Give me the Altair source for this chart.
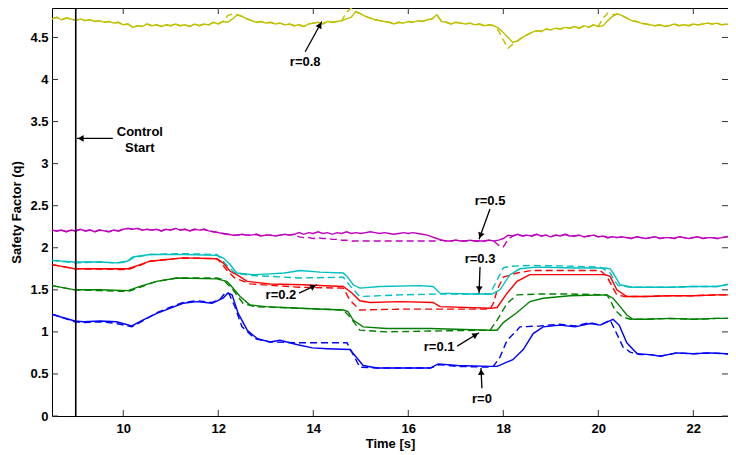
import math
import altair as alt
import pandas as pd

# ---------------- layout constants ----------------
W, H = 676, 408
X_DOMAIN = [8.5, 22.73]
Y_DOMAIN = [0.0, 4.85]
X_TICKS = [10, 12, 14, 16, 18, 20, 22]
Y_TICKS = [0, 0.5, 1, 1.5, 2, 2.5, 3, 3.5, 4, 4.5]
CONTROL_START = 9.0
FONT = "Liberation Sans"

SERIES_NAMES = ["r=0", "r=0.1", "r=0.2", "r=0.3", "r=0.5", "r=0.8"]
SERIES_COLORS = ["#0000ff", "#008000", "#ff0000", "#00bfbf", "#bf00bf", "#bfbf00"]

# ---------------- r = 0 (blue) ----------------
T_R0_SOLID = [8.50, 8.67, 8.98, 9.16, 9.51, 9.86, 10.18, 10.41, 10.71, 10.98, 11.26, 11.55, 11.87,
              12.10, 12.20, 12.29, 12.42, 12.61, 12.82, 13.09, 13.30, 13.65, 13.98, 14.30, 14.77,
              14.92, 15.05, 15.34, 15.83, 16.46, 16.63, 17.03, 17.72, 17.87, 18.20, 18.42, 18.63,
              18.84, 19.19, 19.51, 19.83, 20.04, 20.31, 20.44, 20.60, 20.82, 21.09, 21.30, 21.65,
              22.00, 22.35, 22.70, 22.90]
Q_R0_SOLID = [1.21, 1.18, 1.13, 1.12, 1.13, 1.12, 1.07, 1.14, 1.22, 1.28, 1.34, 1.36, 1.34,
              1.40, 1.46, 1.44, 1.22, 1.02, 0.92, 0.88, 0.90, 0.85, 0.81, 0.80, 0.79,
              0.69, 0.60, 0.57, 0.57, 0.57, 0.62, 0.60, 0.59, 0.59, 0.67, 0.79, 0.98,
              1.06, 1.08, 1.06, 1.10, 1.08, 1.15, 1.08, 0.87, 0.74, 0.73, 0.71, 0.75,
              0.74, 0.75, 0.74, 0.72]
T_R0_DASH = [8.50, 8.67, 8.98, 9.16, 9.51, 9.86, 10.18, 10.41, 10.71, 10.98, 11.26, 11.55, 11.87,
             12.04, 12.14, 12.22, 12.35, 12.50, 12.77, 13.09, 13.72, 14.71, 14.84, 14.98, 15.36,
             15.83, 16.46, 16.67, 17.03, 17.72, 17.79, 17.93, 18.08, 18.29, 18.35, 18.77, 19.19,
             19.51, 19.83, 20.04, 20.25, 20.42, 20.52, 20.67, 20.88, 21.09, 21.30, 21.65, 22.00,
             22.35, 22.70, 22.90]
Q_R0_DASH = [1.21, 1.18, 1.12, 1.11, 1.12, 1.10, 1.06, 1.13, 1.23, 1.29, 1.35, 1.37, 1.35,
             1.39, 1.46, 1.46, 1.30, 1.06, 0.92, 0.88, 0.87, 0.87, 0.73, 0.58, 0.57,
             0.57, 0.57, 0.61, 0.59, 0.58, 0.59, 0.70, 0.90, 1.02, 1.06, 1.07, 1.09,
             1.07, 1.11, 1.08, 1.14, 0.94, 0.82, 0.76, 0.73, 0.73, 0.71, 0.75, 0.74,
             0.75, 0.74, 0.72]

# ---------------- r = 0.1 (green) ----------------
T_R01_SOLID = [8.50, 8.98, 9.51, 10.10, 10.35, 10.70, 11.13, 11.97, 12.18, 12.25, 12.46, 12.67,
               13.00, 13.72, 14.63, 14.73, 14.84, 15.05, 15.55, 16.46, 17.72, 17.87, 18.00, 18.29,
               18.56, 18.84, 19.40, 20.18, 20.31, 20.46, 20.60, 20.73, 21.00, 21.50, 22.00, 22.50,
               22.90]
Q_R01_SOLID = [1.55, 1.50, 1.50, 1.49, 1.54, 1.60, 1.64, 1.63, 1.60, 1.56, 1.42, 1.32,
               1.30, 1.28, 1.26, 1.24, 1.14, 1.06, 1.04, 1.04, 1.02, 1.02, 1.11, 1.23,
               1.36, 1.40, 1.43, 1.44, 1.40, 1.30, 1.20, 1.15, 1.15, 1.16, 1.15, 1.16,
               1.16]
T_R01_DASH = [8.50, 8.98, 9.51, 10.10, 10.35, 10.70, 11.13, 11.97, 12.10, 12.31, 12.52, 12.77,
              13.72, 14.63, 14.77, 14.98, 15.55, 16.46, 17.72, 17.87, 18.08, 18.29, 18.77, 19.40,
              20.18, 20.25, 20.35, 20.50, 20.67, 21.00, 21.50, 22.00, 22.50, 22.90]
Q_R01_DASH = [1.55, 1.50, 1.49, 1.48, 1.53, 1.60, 1.64, 1.64, 1.62, 1.50, 1.34, 1.30,
              1.28, 1.26, 1.18, 1.02, 1.00, 1.01, 1.02, 1.14, 1.34, 1.44, 1.45, 1.45,
              1.44, 1.38, 1.26, 1.18, 1.15, 1.15, 1.16, 1.15, 1.16, 1.16]

# ---------------- r = 0.2 (red) ----------------
T_R02_SOLID = [8.50, 8.98, 10.10, 10.31, 10.56, 11.26, 11.97, 12.10, 12.25, 12.39, 12.61, 13.09,
               13.78, 14.63, 14.82, 14.98, 15.20, 15.83, 16.52, 16.67, 17.72, 17.87, 18.08, 18.29,
               18.56, 19.50, 20.14, 20.25, 20.39, 20.60, 21.00, 21.50, 22.00, 22.50, 22.90]
Q_R02_SOLID = [1.80, 1.75, 1.75, 1.79, 1.84, 1.88, 1.87, 1.82, 1.72, 1.68, 1.60, 1.57,
               1.56, 1.54, 1.46, 1.37, 1.35, 1.36, 1.35, 1.30, 1.28, 1.29, 1.46, 1.60,
               1.68, 1.68, 1.68, 1.66, 1.50, 1.42, 1.42, 1.43, 1.43, 1.44, 1.44]
T_R02_DASH = [8.50, 8.98, 10.10, 10.31, 10.56, 11.26, 11.97, 12.04, 12.20, 12.35, 12.67, 13.72,
              14.63, 14.77, 14.98, 15.83, 17.72, 17.80, 17.87, 18.00, 18.29, 18.60, 19.50, 20.04,
              20.18, 20.29, 20.39, 20.56, 21.00, 21.50, 22.00, 22.50, 22.90]
Q_R02_DASH = [1.80, 1.75, 1.74, 1.78, 1.84, 1.88, 1.87, 1.83, 1.72, 1.64, 1.57, 1.53,
              1.52, 1.38, 1.26, 1.27, 1.27, 1.35, 1.50, 1.65, 1.70, 1.73, 1.73, 1.73,
              1.66, 1.54, 1.44, 1.42, 1.42, 1.43, 1.43, 1.44, 1.44]

# ---------------- r = 0.3 (cyan) ----------------
T_R03_SOLID = [8.50, 8.98, 9.51, 9.86, 10.08, 10.20, 10.56, 11.26, 11.97, 12.10, 12.25, 12.39,
               12.72, 13.09, 13.40, 13.72, 14.14, 14.63, 14.71, 14.84, 14.98, 15.40, 16.25, 16.52,
               16.67, 17.30, 17.76, 17.93, 18.14, 18.35, 18.70, 19.50, 20.14, 20.25, 20.31, 20.46,
               20.70, 21.50, 22.00, 22.50, 22.70, 22.90]
Q_R03_SOLID = [1.85, 1.83, 1.83, 1.82, 1.84, 1.89, 1.92, 1.92, 1.91, 1.88, 1.80, 1.70,
               1.68, 1.69, 1.70, 1.73, 1.71, 1.70, 1.66, 1.56, 1.52, 1.54, 1.55, 1.54,
               1.46, 1.45, 1.45, 1.50, 1.68, 1.75, 1.77, 1.76, 1.76, 1.75, 1.70, 1.56,
               1.53, 1.53, 1.54, 1.54, 1.56, 1.60]
T_R03_DASH = [8.50, 8.98, 9.51, 9.86, 10.08, 10.20, 10.56, 11.26, 11.97, 12.04, 12.20, 12.35,
              12.72, 13.09, 13.72, 14.63, 14.77, 14.98, 15.83, 16.67, 17.72, 17.87, 18.00, 18.14,
              18.60, 19.50, 20.04, 20.25, 20.35, 20.42, 20.70, 21.50, 22.00, 22.50, 22.70, 22.90]
Q_R03_DASH = [1.85, 1.82, 1.83, 1.82, 1.83, 1.88, 1.92, 1.93, 1.92, 1.88, 1.78, 1.70,
              1.67, 1.66, 1.64, 1.65, 1.55, 1.42, 1.44, 1.45, 1.45, 1.62, 1.76, 1.78,
              1.79, 1.78, 1.77, 1.70, 1.60, 1.55, 1.53, 1.53, 1.54, 1.54, 1.56, 1.60]

# ---------------- r = 0.5 (magenta), sampled every 0.1 s from 8.5 s ----------------
Q_R05_SOLID = [2.21, 2.20, 2.21, 2.19, 2.21, 2.20, 2.22, 2.20, 2.21, 2.19,
               2.21, 2.20, 2.19, 2.21, 2.20, 2.22, 2.23, 2.22, 2.23, 2.21,
               2.22, 2.21, 2.22, 2.20, 2.22, 2.21, 2.23, 2.21, 2.22, 2.20,
               2.22, 2.21, 2.22, 2.20, 2.19, 2.18, 2.17, 2.16, 2.15, 2.15,
               2.16, 2.15, 2.15, 2.16, 2.14, 2.15, 2.15, 2.14, 2.15, 2.16,
               2.15, 2.16, 2.18, 2.16, 2.18, 2.17, 2.19, 2.17, 2.18, 2.16,
               2.18, 2.17, 2.19, 2.17, 2.18, 2.17, 2.18, 2.19, 2.18, 2.17,
               2.18, 2.17, 2.16, 2.17, 2.18, 2.17, 2.18, 2.17, 2.16, 2.15,
               2.13, 2.11, 2.09, 2.08, 2.08, 2.09, 2.08, 2.08, 2.09, 2.08,
               2.08, 2.08, 2.09, 2.08, 2.09, 2.11, 2.15, 2.14, 2.16, 2.14,
               2.15, 2.14, 2.16, 2.14, 2.15, 2.13, 2.15, 2.14, 2.16, 2.14,
               2.14, 2.15, 2.13, 2.14, 2.15, 2.13, 2.14, 2.12, 2.13, 2.12,
               2.13, 2.12, 2.11, 2.13, 2.12, 2.11, 2.12, 2.13, 2.11, 2.12,
               2.12, 2.11, 2.13, 2.12, 2.11, 2.12, 2.13, 2.11, 2.12, 2.12,
               2.11, 2.12, 2.13, 2.14, 2.15]
R05_DASH_CHANGES = {13.7: 2.13, 13.8: 2.12, 13.9: 2.12, 14.0: 2.11, 14.1: 2.12, 14.2: 2.11,
                    14.3: 2.11, 14.4: 2.10, 14.5: 2.10, 14.6: 2.09, 14.7: 2.09, 14.8: 2.08,
                    14.9: 2.08, 15.0: 2.08, 15.1: 2.08, 15.2: 2.08, 15.3: 2.08, 15.4: 2.08,
                    15.5: 2.08, 15.6: 2.08, 15.7: 2.08, 15.8: 2.08, 15.9: 2.08, 16.0: 2.08,
                    16.1: 2.08, 16.2: 2.08, 16.3: 2.08, 16.4: 2.08, 16.5: 2.08, 16.6: 2.08,
                    17.9: 2.03, 18.0: 2.01, 18.1: 2.10}

# ---------------- r = 0.8 (yellow), sampled every 0.1 s from 8.5 s ----------------
Q_R08_SOLID = [4.72, 4.74, 4.71, 4.73, 4.72, 4.70, 4.72, 4.70, 4.71, 4.69,
               4.70, 4.68, 4.69, 4.67, 4.68, 4.65, 4.66, 4.62, 4.64, 4.63,
               4.66, 4.64, 4.65, 4.63, 4.65, 4.64, 4.66, 4.64, 4.65, 4.63,
               4.66, 4.64, 4.66, 4.65, 4.68, 4.66, 4.69, 4.68, 4.72, 4.77,
               4.75, 4.72, 4.70, 4.68, 4.69, 4.67, 4.68, 4.66, 4.67, 4.65,
               4.66, 4.64, 4.65, 4.63, 4.66, 4.67, 4.68, 4.66, 4.69, 4.68,
               4.69, 4.70, 4.72, 4.74, 4.81, 4.78, 4.75, 4.73, 4.71, 4.70,
               4.69, 4.68, 4.66, 4.68, 4.67, 4.69, 4.68, 4.70, 4.69, 4.71,
               4.72, 4.77, 4.69, 4.68, 4.66, 4.68, 4.67, 4.66, 4.67, 4.65,
               4.66, 4.64, 4.65, 4.64, 4.61, 4.56, 4.50, 4.44, 4.46, 4.50,
               4.53, 4.56, 4.58, 4.57, 4.60, 4.59, 4.61, 4.60, 4.62, 4.61,
               4.63, 4.61, 4.64, 4.62, 4.65, 4.63, 4.64, 4.70, 4.75, 4.78,
               4.76, 4.73, 4.70, 4.69, 4.67, 4.66, 4.65, 4.64, 4.65, 4.63,
               4.64, 4.66, 4.64, 4.65, 4.64, 4.66, 4.65, 4.66, 4.67, 4.66,
               4.67, 4.65, 4.66, 4.64, 4.65]
R08_DASH_CHANGES = {12.2: 4.76, 12.3: 4.78, 14.7: 4.80, 14.8: 4.85, 14.9: 4.80,
                    17.9: 4.58, 18.0: 4.47, 18.1: 4.37, 18.2: 4.42,
                    20.1: 4.73, 20.2: 4.79, 20.3: 4.77}
NOISY_T0, NOISY_DT = 8.5, 0.1

# ---------------- annotations ----------------
ANN_TEXT = ["r=0.8", "Control", "Start", "r=0.5", "r=0.3", "r=0.2", "r=0.1", "r=0"]
ANN_T = [13.83, 10.35, 10.35, 17.72, 17.51, 13.32, 16.65, 17.55]
ANN_Q = [4.21, 3.38, 3.19, 2.56, 1.87, 1.44, 0.82, 0.20]
ARROW_TAIL_T = [13.83, 9.78, 17.72, 17.51, 13.70, 17.03, 17.55]
ARROW_TAIL_Q = [4.33, 3.30, 2.46, 1.77, 1.46, 0.83, 0.33]
ARROW_TIP_T = [14.18, 9.02, 17.49, 17.49, 14.08, 17.49, 17.53]
ARROW_TIP_Q = [4.69, 3.30, 2.10, 1.46, 1.56, 0.99, 0.57]

# ---------------- build tables ----------------
rows = []


def add(name, style, ts, qs):
    for t, q in zip(ts, qs):
        rows.append({"name": name, "style": style, "key": name + style, "t": t, "q": q})


add("r=0", "dash", T_R0_DASH, Q_R0_DASH)
add("r=0", "solid", T_R0_SOLID, Q_R0_SOLID)
add("r=0.1", "dash", T_R01_DASH, Q_R01_DASH)
add("r=0.1", "solid", T_R01_SOLID, Q_R01_SOLID)
add("r=0.2", "dash", T_R02_DASH, Q_R02_DASH)
add("r=0.2", "solid", T_R02_SOLID, Q_R02_SOLID)
add("r=0.3", "dash", T_R03_DASH, Q_R03_DASH)
add("r=0.3", "solid", T_R03_SOLID, Q_R03_SOLID)

noisy_t = [round(NOISY_T0 + NOISY_DT * i, 1) for i in range(len(Q_R05_SOLID))]
add("r=0.5", "dash", noisy_t, [R05_DASH_CHANGES.get(t, q) for t, q in zip(noisy_t, Q_R05_SOLID)])
add("r=0.5", "solid", noisy_t, Q_R05_SOLID)
add("r=0.8", "dash", noisy_t, [R08_DASH_CHANGES.get(t, q) for t, q in zip(noisy_t, Q_R08_SOLID)])
add("r=0.8", "solid", noisy_t, Q_R08_SOLID)

lines_df = pd.DataFrame(rows)

ann_df = pd.DataFrame({"text": ANN_TEXT, "t": ANN_T, "q": ANN_Q})
arrow_df = pd.DataFrame({"t": ARROW_TAIL_T, "q": ARROW_TAIL_Q,
                         "t2": ARROW_TIP_T, "q2": ARROW_TIP_Q})

px_x = W / (X_DOMAIN[1] - X_DOMAIN[0])
px_y = H / (Y_DOMAIN[1] - Y_DOMAIN[0])
head_back = 4.0
heads = []
for st, sq, et, eq in zip(ARROW_TAIL_T, ARROW_TAIL_Q, ARROW_TIP_T, ARROW_TIP_Q):
    dx = (et - st) * px_x
    dy = -(eq - sq) * px_y
    L = math.hypot(dx, dy)
    ux, uy = dx / L, dy / L
    heads.append({"t": et - ux * head_back / px_x,
                  "q": eq + uy * head_back / px_y,
                  "ang": math.degrees(math.atan2(dx, -dy)) % 360})
head_df = pd.DataFrame(heads)

xtick_df = pd.DataFrame({"t": X_TICKS})
ytick_df = pd.DataFrame({"q": Y_TICKS})
ctrl_df = pd.DataFrame({"t": [CONTROL_START]})

# ---------------- encodings ----------------
x_scale = alt.Scale(domain=X_DOMAIN, nice=False, zero=False)
y_scale = alt.Scale(domain=Y_DOMAIN, nice=False, zero=False)
x_axis = alt.Axis(values=X_TICKS, ticks=False, domain=False, grid=False, title="Time [s]",
                  labelPadding=6, titlePadding=2, labelFlush=False)
y_axis = alt.Axis(values=Y_TICKS, ticks=False, domain=False, grid=False, title="Safety Factor (q)",
                  labelPadding=4, titlePadding=6, format="~g")
X = alt.X("t:Q", scale=x_scale, axis=x_axis)
Y = alt.Y("q:Q", scale=y_scale, axis=y_axis)
color = alt.Color("name:N", scale=alt.Scale(domain=SERIES_NAMES, range=SERIES_COLORS), legend=None)

dashed = alt.Chart(lines_df).transform_filter(alt.datum.style == "dash").mark_line(
    strokeWidth=1.4, strokeDash=[7, 4], clip=True).encode(x=X, y=Y, color=color, detail="key:N")
solid = alt.Chart(lines_df).transform_filter(alt.datum.style == "solid").mark_line(
    strokeWidth=1.4, clip=True).encode(x=X, y=Y, color=color, detail="key:N")

ctrl = alt.Chart(ctrl_df).mark_rule(color="black", strokeWidth=1.6).encode(
    x=X, y=alt.value(0), y2=alt.value(H))

xt_bottom = alt.Chart(xtick_df).mark_rule(color="#333333", strokeWidth=1).encode(
    x=X, y=alt.value(H), y2=alt.value(H - 6))
xt_top = alt.Chart(xtick_df).mark_rule(color="#333333", strokeWidth=1).encode(
    x=X, y=alt.value(0), y2=alt.value(6))
yt_left = alt.Chart(ytick_df).mark_rule(color="#333333", strokeWidth=1).encode(
    y=Y, x=alt.value(0), x2=alt.value(6))
yt_right = alt.Chart(ytick_df).mark_rule(color="#333333", strokeWidth=1).encode(
    y=Y, x=alt.value(W), x2=alt.value(W - 6))

arrows = alt.Chart(arrow_df).mark_rule(color="black", strokeWidth=1.3).encode(
    x=X, y=Y, x2="t2:Q", y2="q2:Q")
arrow_heads = alt.Chart(head_df).mark_point(shape="triangle-up", filled=True, size=45,
                                             color="black", opacity=1).encode(
    x=X, y=Y, angle=alt.Angle("ang:Q", scale=None))
labels = alt.Chart(ann_df).mark_text(font=FONT, fontSize=13, fontWeight="bold",
                                     align="center", baseline="middle", color="black").encode(
    x=X, y=Y, text="text:N")

chart = alt.layer(
    xt_bottom, xt_top, yt_left, yt_right,
    dashed, solid, ctrl, arrows, arrow_heads, labels
).properties(
    width=W, height=H,
    autosize=alt.AutoSizeParams(type="none"),
    padding={"left": 44, "top": 0, "right": 0, "bottom": 36},
).configure_view(
    stroke="black", strokeWidth=1
).configure_axis(
    labelFont=FONT, labelFontSize=13, labelFontWeight="bold", labelColor="black",
    titleFont=FONT, titleFontSize=13, titleFontWeight="bold", titleColor="black",
)

chart.save("out.html", embed_options={"renderer": "svg", "actions": False})
